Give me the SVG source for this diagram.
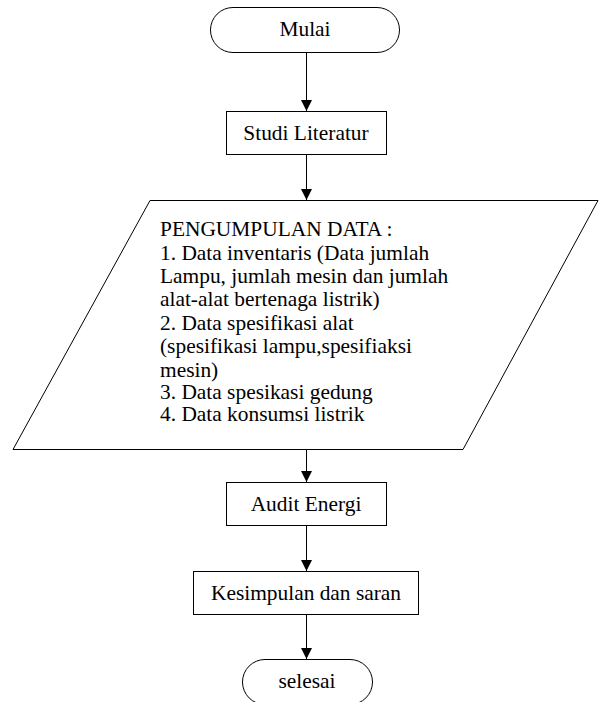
<svg xmlns="http://www.w3.org/2000/svg" width="601" height="702" viewBox="0 0 601 702">
<style>
.shape{fill:#fff;stroke:#000;stroke-width:1}
text{font-family:'Liberation Serif','Times New Roman',serif;font-size:21.4px;fill:#000}
.c{text-anchor:middle}
.conn{stroke:#000;stroke-width:1;fill:none}
</style>
<defs>
<marker id="ah" markerUnits="userSpaceOnUse" markerWidth="12" markerHeight="12" refX="11" refY="6" orient="auto">
<path d="M0,0.5 L11,6 L0,11.5 z" fill="#000"/>
</marker>
</defs>
<rect width="601" height="702" fill="#fff"/>
<g id="connectors">
<line class="conn" x1="306.5" y1="52" x2="306.5" y2="111" marker-end="url(#ah)"/>
<line class="conn" x1="306.5" y1="154" x2="306.5" y2="200" marker-end="url(#ah)"/>
<line class="conn" x1="306.5" y1="449" x2="306.5" y2="482" marker-end="url(#ah)"/>
<line class="conn" x1="306.5" y1="525" x2="306.5" y2="571" marker-end="url(#ah)"/>
<line class="conn" x1="306.5" y1="614" x2="306.5" y2="659" marker-end="url(#ah)"/>
</g>
<g id="mulai">
<rect class="shape" x="210.5" y="7.5" width="189" height="45" rx="22.5" ry="22.5"/>
<text class="c" x="305" y="36">Mulai</text>
</g>
<g id="studi">
<rect class="shape" x="226.5" y="111.5" width="160" height="43"/>
<text class="c" x="306" y="140">Studi Literatur</text>
</g>
<g id="pengumpulan">
<polygon class="shape" points="150,200.5 598,200.5 463,449.5 13,449.5"/>
<text x="160" y="236">PENGUMPULAN DATA :</text>
<text x="160" y="259.5">1. Data inventaris (Data jumlah</text>
<text x="160" y="283">Lampu, jumlah mesin dan jumlah</text>
<text x="160" y="306">alat-alat bertenaga listrik)</text>
<text x="160" y="330">2. Data spesifikasi alat</text>
<text x="160" y="353">(spesifikasi lampu,spesifiaksi</text>
<text x="160" y="376.5">mesin)</text>
<text x="160" y="399">3. Data spesikasi gedung</text>
<text x="160" y="421">4. Data konsumsi listrik</text>
</g>
<g id="audit">
<rect class="shape" x="226.5" y="482.5" width="160" height="43"/>
<text class="c" x="306" y="511">Audit Energi</text>
</g>
<g id="kesimpulan">
<rect class="shape" x="193.5" y="571.5" width="225" height="43"/>
<text class="c" x="306" y="600">Kesimpulan dan saran</text>
</g>
<g id="selesai">
<rect class="shape" x="242.5" y="659.5" width="130" height="45" rx="22.5" ry="22.5"/>
<text class="c" x="307" y="688">selesai</text>
</g>
</svg>
